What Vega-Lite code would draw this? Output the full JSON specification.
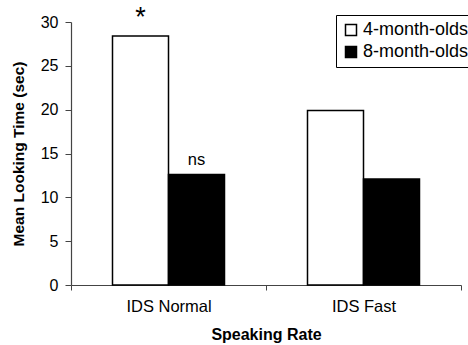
{
  "$schema": "https://vega.github.io/schema/vega-lite/v6.json",
  "width": 390,
  "height": 263,
  "autosize": "none",
  "padding": {"left": 71, "top": 22, "right": 7, "bottom": 60},
  "background": "white",
  "config": {"view": {"stroke": null}, "font": "Liberation Sans"},
  "data": {"values": [
    {"rate": "IDS Normal", "age": "4-month-olds", "time": 28.4, "note": "*"},
    {"rate": "IDS Normal", "age": "8-month-olds", "time": 12.6, "note": "ns"},
    {"rate": "IDS Fast", "age": "4-month-olds", "time": 19.9, "note": ""},
    {"rate": "IDS Fast", "age": "8-month-olds", "time": 12.1, "note": ""}
  ]},
  "encoding": {
    "x": {
      "field": "rate", "type": "nominal", "sort": ["IDS Normal", "IDS Fast"],
      "scale": {"paddingInner": 0, "paddingOuter": 0},
      "axis": {
        "title": "Speaking Rate", "titleFont": "Liberation Sans", "titleFontSize": 16, "titleFontWeight": "bold",
        "titleColor": "black", "titlePadding": 12,
        "labelAngle": 0, "labelFontSize": 16.5, "labelColor": "black", "labelPadding": 8,
        "tickBand": "extent", "tickSize": 5, "tickColor": "#444", "domainColor": "#444", "domainWidth": 1.2
      }
    },
    "xOffset": {
      "field": "age", "type": "nominal",
      "scale": {"paddingInner": 0, "paddingOuter": 0.741}
    },
    "y": {
      "field": "time", "type": "quantitative",
      "scale": {"domain": [0, 30]},
      "axis": {
        "title": "Mean Looking Time (sec)", "titleFontSize": 15.5, "titleFontWeight": "bold",
        "titleColor": "black", "titlePadding": 14,
        "values": [0, 5, 10, 15, 20, 25, 30], "grid": false,
        "labelFontSize": 16, "labelColor": "black", "labelPadding": 7,
        "tickSize": 6, "tickColor": "#444", "domainColor": "#444", "domainWidth": 1.2
      }
    }
  },
  "layer": [
    {
      "mark": {"type": "bar", "stroke": "black", "strokeWidth": 1.5},
      "encoding": {
        "fill": {
          "field": "age", "type": "nominal",
          "scale": {"domain": ["4-month-olds", "8-month-olds"], "range": ["white", "black"]},
          "legend": {
            "title": null, "orient": "none", "legendX": 265, "legendY": -7,
            "strokeColor": "black", "padding": 6, "symbolType": "square", "symbolSize": 121,
            "symbolStrokeColor": "black", "symbolStrokeWidth": 1.5, "labelFontSize": 18,
            "labelColor": "black", "labelOffset": 3, "rowPadding": 4, "fillColor": "white"
          }
        }
      }
    },
    {
      "mark": {"type": "text", "baseline": "alphabetic", "dy": -10, "color": "black"},
      "encoding": {
        "text": {"field": "note"},
        "size": {"condition": {"test": "datum.note === '*'", "value": 27}, "value": 16.5}
      }
    }
  ]
}
